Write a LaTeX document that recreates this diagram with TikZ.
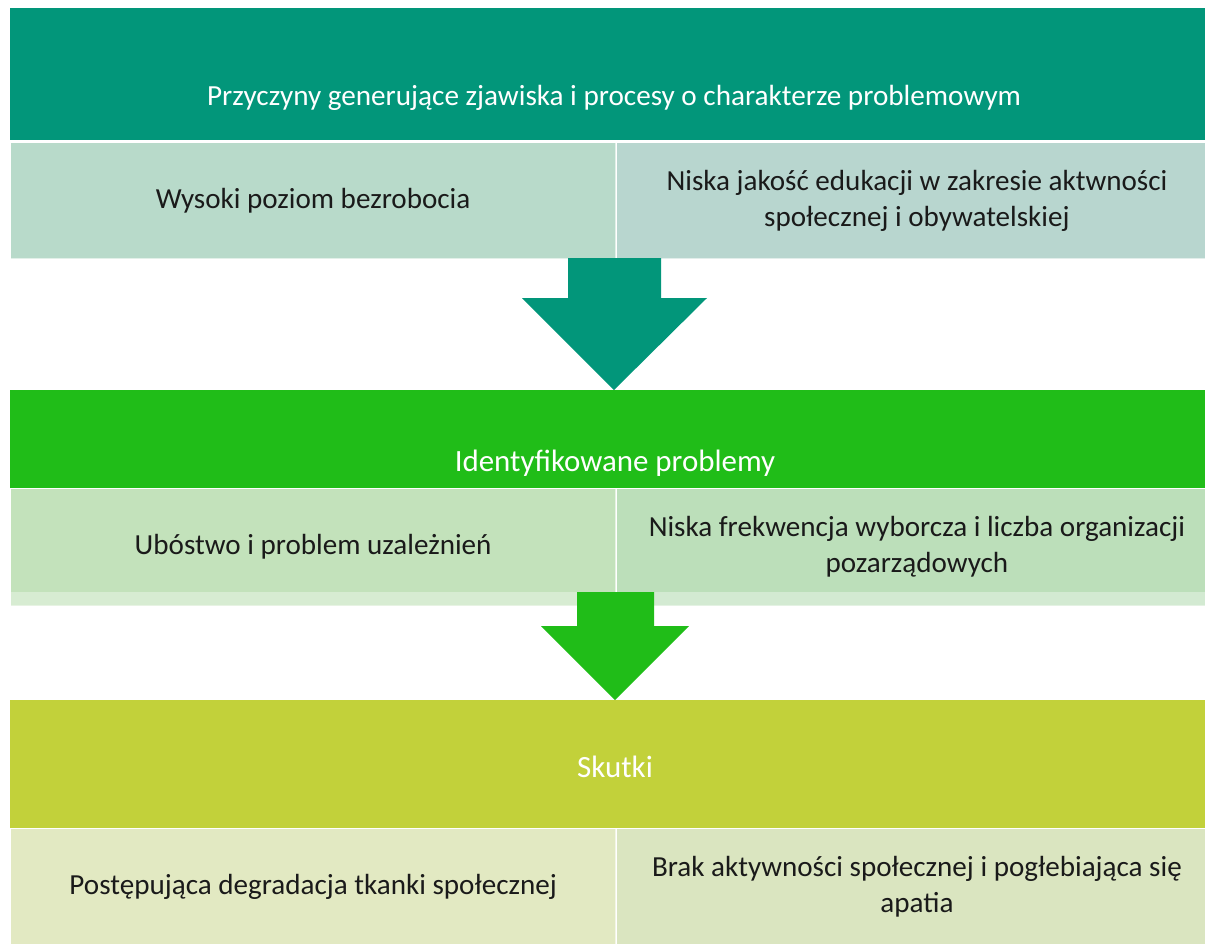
\documentclass[tikz,border=0pt]{standalone}
\usepackage{fontspec}
\setmainfont{Carlito}
\usetikzlibrary{positioning}

\definecolor{tealhead}{HTML}{02967A}
\definecolor{tealL}{HTML}{B8DACA}
\definecolor{tealR}{HTML}{B8D6CF}
\definecolor{greenhead}{HTML}{20BD18}
\definecolor{greenL}{HTML}{C3E2BB}
\definecolor{greenR}{HTML}{BCDFBA}
\definecolor{limehead}{HTML}{C2D13A}
\definecolor{limeL}{HTML}{E2E9C2}
\definecolor{limeR}{HTML}{DAE5C0}
\definecolor{bodytext}{HTML}{1A1A1A}

\begin{document}
\begin{tikzpicture}[
  x=0.025cm, y=-0.025cm,
  font=\fontsize{20.7}{25.5}\selectfont,
  head/.style={rectangle, draw=none, anchor=north west, minimum width=30cm, inner sep=0pt},
  headtext/.style={text=white, font=\fontsize{22}{27}\selectfont, inner sep=0pt},
  cell/.style={rectangle, draw=white, draw opacity=0.6, line width=0.8pt, anchor=north west,
               minimum height=2.9cm, align=center, inner sep=0pt, text=bodytext},
  leftcell/.style={cell, minimum width=15.125cm},
  rightcell/.style={cell, minimum width=15cm},
  blockarrow/.style={draw=none}
]
\useasboundingbox (0,0) rectangle (1205,943);
\clip (0,0) rectangle (1205,943);

% causes
\node[head, fill=tealhead, minimum height=3.3cm] (causes) at (10,8) {};
\node[headtext, font=\fontsize{20.75}{25.5}\selectfont] (causestext) at (614,98) {Przyczyny generujące zjawiska i procesy o charakterze problemowym};
\node[leftcell, fill=tealL] (unemp) at (10,142) {Wysoki poziom bezrobocia};
\node[rightcell, fill=tealR] (educ) at (unemp.north east) {Niska jakość edukacji w zakresie aktwności\\społecznej i obywatelskiej};

\fill[blockarrow, tealhead] (568,258) -- (661,258) -- (661,298) -- (707,298) -- (614,390)
  -- (522,298) -- (568,298) -- cycle;

% problems
\node[head, fill=greenhead, minimum height=2.45cm] (problems) at (10,390) {};
\node[headtext] (problemstext) at (615,463) {Identyfikowane problemy};
\node[leftcell, fill=greenL, minimum height=2.925cm] (poverty) at (10,488) {Ubóstwo i problem uzależnień};
\node[rightcell, fill=greenR, minimum height=2.925cm] (turnout) at (poverty.north east) {Niska frekwencja wyborcza i liczba organizacji\\pozarządowych};
\fill[white, opacity=0.35] (10,592) rectangle (1210,605);

\fill[blockarrow, greenhead] (577,592) -- (654,592) -- (654,626) -- (689,626) -- (615,700)
  -- (541,626) -- (577,626) -- cycle;

% effects
\node[head, fill=limehead, minimum height=3.2cm] (effects) at (10,700) {};
\node[headtext] (effectstext) at (615,767) {Skutki};
\node[leftcell, fill=limeL] (degrad) at (10,828) {Postępująca degradacja tkanki społecznej};
\node[rightcell, fill=limeR] (apathy) at (degrad.north east) {Brak aktywności społecznej i pogłebiająca się\\apatia};

\end{tikzpicture}
\end{document}
